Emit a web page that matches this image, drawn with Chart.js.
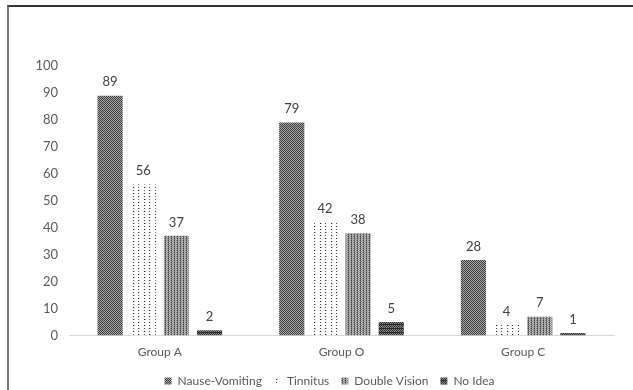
<!DOCTYPE html>
<html>
<head>
<meta charset="utf-8">
<script src="https://cdn.jsdelivr.net/npm/chart.js@4"></script>
<style>
  html, body { margin: 0; padding: 0; background: #fff; }
  #wrap { position: relative; width: 633px; height: 390px; }
  #frame { position: absolute; left: 7px; top: 5px; right: 0; bottom: 0; border-top: 2px solid #333; border-left: 2px solid #777; pointer-events: none; }
  canvas { display: block; }
</style>
</head>
<body>
<div id="wrap">
  <canvas id="chart" width="633" height="390"></canvas>
  <div id="frame"></div>
</div>
<script>
const groups = ['Group A', 'Group O', 'Group C'];
const seriesNames = ['Nause-Vomiting', 'Tinnitus', 'Double Vision', 'No Idea'];
const nauseVomiting = [89, 79, 28];
const tinnitus = [56, 42, 4];
const doubleVision = [37, 38, 7];
const noIdea = [2, 5, 1];
const yTicks = [0, 10, 20, 30, 40, 50, 60, 70, 80, 90, 100];

const FONT = 'Lato, "Open Sans", sans-serif';

// small bitmap patterns to mimic the hatch fills
function makePattern(w, h, bg, dots) {
  const c = document.createElement('canvas');
  c.width = w;
  c.height = h;
  const g = c.getContext('2d');
  g.fillStyle = bg;
  g.fillRect(0, 0, w, h);
  dots.forEach(function (d) {
    g.fillStyle = d[2];
    g.fillRect(d[0], d[1], 1, 1);
  });
  return document.getElementById('chart').getContext('2d').createPattern(c, 'repeat');
}

const nausePat = makePattern(2, 2, '#ababab', [[0, 0, '#3a3a3a'], [1, 1, '#3a3a3a']]);
const tinnitusPat = makePattern(11, 6, '#ffffff', [
  [1, 1, '#222'], [6, 1, '#555'], [1, 4, '#555'], [6, 4, '#222'], [2, 1, '#bbb'], [7, 4, '#bbb']
]);
const doublePat = makePattern(3, 2, '#bdbdbd', [
  [0, 0, '#444'], [0, 1, '#777'], [2, 0, '#888'], [1, 1, '#999']
]);
const noIdeaPat = makePattern(4, 4, '#8a8a8a', [
  [0, 0, '#2a2a2a'], [1, 0, '#2a2a2a'], [2, 0, '#2a2a2a'], [3, 0, '#2a2a2a'],
  [1, 1, '#2a2a2a'], [3, 1, '#2a2a2a'],
  [0, 2, '#2a2a2a'], [2, 2, '#2a2a2a'],
  [1, 3, '#2a2a2a'], [3, 3, '#444']
]);

// values above each bar
const valueLabels = {
  id: 'valueLabels',
  afterDatasetsDraw(chart) {
    const ctx = chart.ctx;
    ctx.save();
    ctx.font = '13px ' + FONT;
    ctx.fillStyle = '#404040';
    ctx.textAlign = 'center';
    ctx.textBaseline = 'bottom';
    chart.data.datasets.forEach(function (ds, i) {
      chart.getDatasetMeta(i).data.forEach(function (bar, j) {
        ctx.fillText(ds.data[j], bar.x, bar.y - 7);
      });
    });
    ctx.restore();
  }
};

// nudge the legend, the original is a little right of centre
const legendShift = {
  id: 'legendShift',
  afterLayout(chart) {
    const l = chart.legend;
    l.left += 14;
    l.right += 14;
    l.top -= 5;
    l.bottom -= 5;
  }
};

const ctx = document.getElementById('chart').getContext('2d');
const myChart = new Chart(ctx, {
  type: 'bar',
  data: {
    labels: groups,
    datasets: [
      { label: seriesNames[0], data: nauseVomiting, backgroundColor: nausePat },
      { label: seriesNames[1], data: tinnitus, backgroundColor: tinnitusPat },
      { label: seriesNames[2], data: doubleVision, backgroundColor: doublePat },
      { label: seriesNames[3], data: noIdea, backgroundColor: noIdeaPat }
    ]
  },
  options: {
    responsive: false,
    animation: false,
    categoryPercentage: 0.73,
    barPercentage: 0.76,
    layout: { padding: { top: 66, right: 19, left: 17, bottom: -12 } },
    scales: {
      x: {
        grid: { display: false, drawTicks: false },
        border: { color: '#d9d9d9', width: 1 },
        ticks: { color: '#595959', font: { family: FONT, size: 12 }, padding: 9 }
      },
      y: {
        min: 0,
        max: 100,
        afterBuildTicks: function (axis) {
          axis.ticks = yTicks.map(function (v) { return { value: v }; });
        },
        afterFit: function (axis) {
          axis.width = 52;
        },
        grid: { display: false, drawTicks: false },
        border: { display: false },
        ticks: { color: '#595959', font: { family: FONT, size: 13 }, padding: 11 }
      }
    },
    plugins: {
      legend: {
        position: 'bottom',
        labels: {
          boxWidth: 7,
          boxHeight: 7,
          padding: 12,
          color: '#595959',
          font: { family: FONT, size: 12 }
        }
      },
      tooltip: { enabled: false }
    }
  },
  plugins: [valueLabels, legendShift]
});
</script>
</body>
</html>
